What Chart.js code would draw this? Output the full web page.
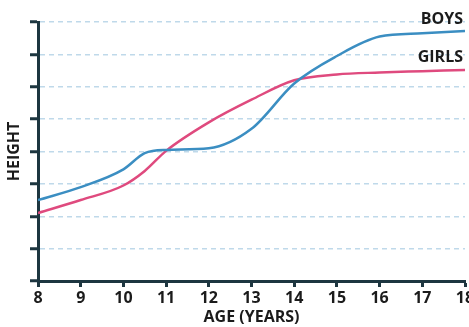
<!DOCTYPE html>
<html lang="en">
  <head>
    <meta charset="UTF-8" />
    <title>Height by age</title>
    <script src="https://cdn.jsdelivr.net/npm/chart.js@4/dist/chart.umd.min.js"></script>
    <style>
      body { margin: 0; background: #fff; }
    </style>
  </head>
  <body>
    <canvas id="chart" width="469" height="327"></canvas>
    <script>
      var boysAges = [8, 9, 10, 10.5, 11, 12, 13, 14, 15, 16, 17, 18];
      var boysHeight = [2.5, 2.9, 3.45, 3.95, 4.05, 4.1, 4.7, 6.1, 6.95, 7.55, 7.65, 7.72];

      var girlsAges = [8, 9, 10, 10.5, 11, 12, 13, 14, 15, 16, 17, 18];
      var girlsHeight = [2.1, 2.5, 2.95, 3.4, 4.02, 4.9, 5.6, 6.2, 6.38, 6.44, 6.48, 6.52];

      var seriesNames = ['BOYS', 'GIRLS'];

      var dark = '#1d3640';
      var font = { family: '"Open Sans", sans-serif', size: 16, weight: 'bold' };

      function points(xs, ys) {
        return xs.map((x, i) => ({ x: x, y: ys[i] }));
      }

      // writes the series name just above the end of each line
      var endLabels = {
        id: 'endLabels',
        afterDatasetsDraw(chart) {
          const ctx = chart.ctx;
          ctx.save();
          ctx.font = 'bold 16px "Open Sans", sans-serif';
          ctx.fillStyle = '#1b1b1b';
          ctx.textAlign = 'right';
          ctx.textBaseline = 'middle';
          chart.data.datasets.forEach((ds, i) => {
            const meta = chart.getDatasetMeta(i);
            const last = meta.data[meta.data.length - 1];
            ctx.fillText(ds.label, last.x - 2, last.y - 12);
          });
          ctx.restore();
        }
      };

      new Chart(document.getElementById('chart'), {
        type: 'line',
        data: {
          datasets: [
            {
              label: seriesNames[0],
              data: points(boysAges, boysHeight),
              borderColor: '#3b8ec2',
              borderWidth: 2.5,
              pointRadius: 0,
              cubicInterpolationMode: 'monotone'
            },
            {
              label: seriesNames[1],
              data: points(girlsAges, girlsHeight),
              borderColor: '#df4a7e',
              borderWidth: 2.5,
              pointRadius: 0,
              cubicInterpolationMode: 'monotone'
            }
          ]
        },
        options: {
          responsive: false,
          animation: false,
          layout: { padding: { top: 22, right: 4, left: 0, bottom: 0 } },
          plugins: {
            legend: { display: false },
            tooltip: { enabled: false }
          },
          scales: {
            x: {
              type: 'linear',
              min: 8,
              max: 18,
              ticks: { stepSize: 1, color: '#1b1b1b', font: font, padding: 2 },
              grid: {
                drawOnChartArea: false,
                tickLength: 6,
                tickColor: dark,
                tickWidth: 3
              },
              border: { color: dark, width: 3 },
              title: {
                display: true,
                text: 'AGE (YEARS)',
                color: '#1b1b1b',
                font: font,
                padding: { top: 0, bottom: 0 }
              },
              afterFit(scale) {
                scale.height = 46;
                scale.paddingLeft = 0;
                scale.paddingRight = 0;
              }
            },
            y: {
              min: 0,
              max: 8,
              ticks: { stepSize: 1, display: false },
              grid: {
                color: '#bfd9ea',
                lineWidth: 1.5,
                tickLength: 8,
                tickColor: dark,
                tickWidth: 3,
                tickBorderDash: []
              },
              border: { color: dark, width: 3, dash: [5, 4] },
              title: {
                display: true,
                text: 'HEIGHT',
                color: '#1b1b1b',
                font: font,
                padding: { top: 5, bottom: 0 }
              },
              afterFit(scale) {
                scale.width = 38;
                scale.paddingTop = 0;
                scale.paddingBottom = 0;
              }
            }
          }
        },
        plugins: [endLabels]
      });
    </script>
  </body>
</html>
